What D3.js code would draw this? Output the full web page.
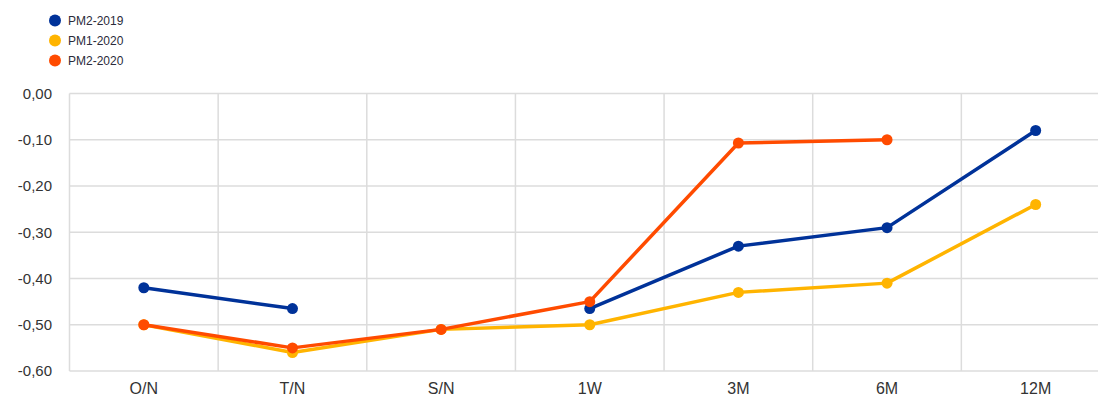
<!DOCTYPE html>
<html>
<head>
<meta charset="utf-8">
<script src="https://cdn.jsdelivr.net/npm/d3@7"></script>
<style>
  body { margin: 0; background: #fff; }
  svg { display: block; font-family: "Liberation Sans", Arial, sans-serif; }
  .grid line { stroke: #dcdcdc; stroke-width: 1.5; }
  .axis text { fill: #333; }
</style>
</head>
<body>
<svg width="1098" height="408"></svg>
<script>
const categories = ["O/N", "T/N", "S/N", "1W", "3M", "6M", "12M"];
const seriesNames = ["PM2-2019", "PM1-2020", "PM2-2020"];
const colors = ["#003299", "#ffb400", "#ff4b00"];
const pm2_2019 = [-0.42, -0.465, null, -0.465, -0.33, -0.29, -0.08];
const pm1_2020 = [-0.50, -0.56, -0.51, -0.50, -0.43, -0.41, -0.24];
const pm2_2020 = [-0.50, -0.55, -0.51, -0.45, -0.107, -0.10, null];
const yTicks = [0, -0.1, -0.2, -0.3, -0.4, -0.5, -0.6];

const series = [pm2_2019, pm1_2020, pm2_2020];

const svg = d3.select("svg");
const plot = { left: 69.5, right: 1110, top: 93.5, bottom: 371 };

const x = d3.scaleBand()
    .domain(categories)
    .range([plot.left, plot.right]);

const y = d3.scaleLinear()
    .domain([-0.6, 0])
    .range([plot.bottom, plot.top]);

// grid
const grid = svg.append("g").attr("class", "grid");
grid.selectAll(".h")
    .data(yTicks)
    .enter().append("line")
    .attr("x1", plot.left).attr("x2", plot.right)
    .attr("y1", d => y(d)).attr("y2", d => y(d));
grid.selectAll(".v")
    .data(categories)
    .enter().append("line")
    .attr("x1", d => x(d)).attr("x2", d => x(d))
    .attr("y1", plot.top).attr("y2", plot.bottom);

// y labels
svg.append("g")
    .attr("class", "axis")
    .selectAll("text")
    .data(yTicks)
    .enter().append("text")
    .attr("x", 52)
    .attr("y", d => y(d))
    .attr("dy", "0.35em")
    .attr("text-anchor", "end")
    .style("font-size", "15px")
    .text(d => d3.format(".2f")(d).replace("−", "-").replace(".", ","));

// x labels
svg.append("g")
    .attr("class", "axis")
    .selectAll("text")
    .data(categories)
    .enter().append("text")
    .attr("x", d => x(d) + x.bandwidth() / 2)
    .attr("y", 394)
    .attr("text-anchor", "middle")
    .style("font-size", "16px")
    .text(d => d);

const line = d3.line()
    .defined(d => d != null)
    .x((d, i) => x(categories[i]) + x.bandwidth() / 2)
    .y(d => y(d));

// draw lines: yellow first, then blue, then orange on top
const order = [1, 0, 2];
order.forEach(k => {
    const g = svg.append("g");
    g.append("path")
        .datum(series[k])
        .attr("fill", "none")
        .attr("stroke", colors[k])
        .attr("stroke-width", 3.5)
        .attr("stroke-linejoin", "round")
        .attr("d", line);
    g.selectAll("circle")
        .data(series[k].map((v, i) => ({ v, i })).filter(d => d.v != null))
        .enter().append("circle")
        .attr("cx", d => x(categories[d.i]) + x.bandwidth() / 2)
        .attr("cy", d => y(d.v))
        .attr("r", 5.5)
        .attr("fill", colors[k]);
});

// legend
const legend = svg.append("g")
    .selectAll("g")
    .data(seriesNames)
    .enter().append("g")
    .attr("transform", (d, i) => `translate(55,${20.5 + i * 20})`);
legend.append("circle")
    .attr("r", 6)
    .attr("fill", (d, i) => colors[i]);
legend.append("text")
    .attr("x", 13)
    .attr("dy", "0.35em")
    .style("font-size", "12px")
    .attr("fill", "#2b2b3a")
    .text(d => d);
</script>
</body>
</html>
